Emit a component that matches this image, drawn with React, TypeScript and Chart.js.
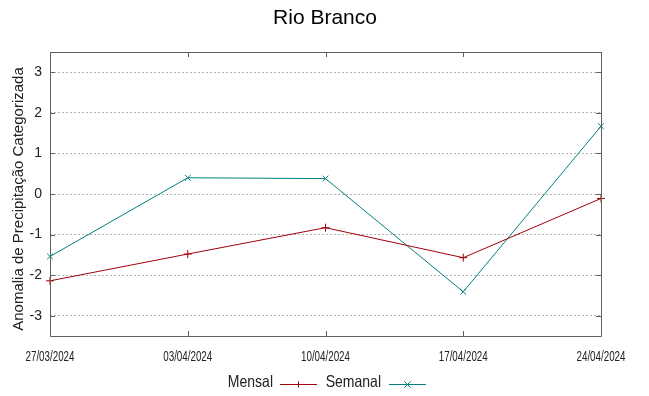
import React, { useEffect, useRef } from "react";
import { Chart, registerables } from "chart.js";

Chart.register(...registerables);

const dates = ["27/03/2024", "03/04/2024", "10/04/2024", "17/04/2024", "24/04/2024"];
const mensal = [-2.14, -1.48, -0.83, -1.57, -0.11];
const semanal = [-1.54, 0.4, 0.38, -2.41, 1.67];
const yTicks = [-3, -2, -1, 0, 1, 2, 3];
const titleText = "Rio Branco";
const yTitle = "Anomalia de Precipitação Categorizada";
const seriesNames = ["Mensal", "Semanal"];

const RED = "#a0000a";
const TEAL = "#00807f";
const FRAME = "#606060";
const SANS = "'Liberation Sans', Arial, sans-serif";

const framePlugin = {
  id: "framePlugin",
  afterDraw(chart: any) {
    const { ctx, chartArea: a, scales } = chart;
    const x = scales.x;
    const y = scales.y;
    ctx.save();
    ctx.strokeStyle = FRAME;
    ctx.lineWidth = 1;
    ctx.beginPath();
    ctx.rect(a.left + 0.5, a.top + 0.5, a.right - a.left, a.bottom - a.top);
    ctx.stroke();
    ctx.beginPath();
    yTicks.forEach((v) => {
      const py = Math.round(y.getPixelForValue(v)) + 0.5;
      ctx.moveTo(a.left, py);
      ctx.lineTo(a.left + 5, py);
      ctx.moveTo(a.right, py);
      ctx.lineTo(a.right - 5, py);
    });
    dates.forEach((_, i) => {
      const px = Math.round(x.getPixelForValue(i)) + 0.5;
      ctx.moveTo(px, a.bottom);
      ctx.lineTo(px, a.bottom - 5);
      ctx.moveTo(px, a.top);
      ctx.lineTo(px, a.top + 5);
    });
    ctx.stroke();
    ctx.restore();

    // title
    ctx.save();
    ctx.fillStyle = "#000";
    ctx.font = "21px " + SANS;
    ctx.textAlign = "center";
    ctx.textBaseline = "middle";
    ctx.fillText(titleText, 325, 18);
    ctx.restore();

    // x tick labels (narrow)
    ctx.save();
    ctx.fillStyle = "#222";
    ctx.font = "14px " + SANS;
    ctx.textAlign = "center";
    ctx.textBaseline = "middle";
    dates.forEach((d, i) => {
      const px = x.getPixelForValue(i);
      ctx.save();
      ctx.translate(px, 357);
      ctx.scale(0.7, 1);
      ctx.fillText(d, 0, 0);
      ctx.restore();
    });
    ctx.restore();

    // y axis title
    ctx.save();
    ctx.fillStyle = "#222";
    ctx.font = "15px " + SANS;
    ctx.textAlign = "center";
    ctx.textBaseline = "middle";
    ctx.translate(19, 199);
    ctx.rotate(-Math.PI / 2);
    ctx.fillText(yTitle, 0, 0);
    ctx.restore();

    // legend
    ctx.save();
    ctx.textBaseline = "middle";
    ctx.textAlign = "right";
    ctx.fillStyle = "#222";
    ctx.font = "16.5px " + SANS;
    const colors = [RED, TEAL];
    const textRight = [273, 381];
    const lineStart = [280, 389];
    const lineLen = 37;
    const ly = 382;
    seriesNames.forEach((name, i) => {
      ctx.save();
      ctx.translate(textRight[i], ly);
      ctx.scale(0.85, 1);
      ctx.fillText(name, 0, 0);
      ctx.restore();
      ctx.strokeStyle = colors[i];
      ctx.lineWidth = 1;
      const yy = ly + 2.5;
      ctx.beginPath();
      ctx.moveTo(lineStart[i], yy);
      ctx.lineTo(lineStart[i] + lineLen, yy);
      const cx = lineStart[i] + lineLen / 2;
      if (i === 0) {
        ctx.moveTo(cx, yy - 3);
        ctx.lineTo(cx, yy + 3);
      } else {
        ctx.moveTo(cx - 3, yy - 3);
        ctx.lineTo(cx + 3, yy + 3);
        ctx.moveTo(cx - 3, yy + 3);
        ctx.lineTo(cx + 3, yy - 3);
      }
      ctx.stroke();
    });
    ctx.restore();
  },
};

export default function App() {
  const ref = useRef<HTMLCanvasElement>(null);
  useEffect(() => {
    document.body.style.margin = "0";
    const chart = new Chart(ref.current!, {
      type: "line",
      data: {
        labels: dates,
        datasets: [
          {
            label: seriesNames[0],
            data: mensal,
            borderColor: RED,
            backgroundColor: RED,
            borderWidth: 1,
            pointStyle: "cross",
            pointRadius: 4,
            pointBorderWidth: 1,
            tension: 0,
          },
          {
            label: seriesNames[1],
            data: semanal,
            borderColor: TEAL,
            backgroundColor: TEAL,
            borderWidth: 1,
            pointStyle: "crossRot",
            pointRadius: 4,
            pointBorderWidth: 1,
            tension: 0,
          },
        ],
      },
      options: {
        animation: false,
        responsive: false,
        layout: { padding: { left: 0, right: 48, top: 52, bottom: 20 } },
        plugins: {
          legend: { display: false },
          tooltip: { enabled: false },
          title: { display: false },
        },
        scales: {
          x: {
            type: "category",
            offset: false,
            grid: { display: false },
            border: { display: false },
            ticks: { display: false, autoSkip: false, maxRotation: 0 },
            afterFit: (s: any) => {
              s.height = 40;
            },
          },
          y: {
            min: -3.5,
            max: 3.5,
            afterBuildTicks: (s: any) => {
              s.ticks = yTicks.map((v) => ({ value: v }));
            },
            grid: { color: "#b4b4b4", lineWidth: 1, drawTicks: false },
            border: { display: false, dash: [2, 2] },
            ticks: {
              color: "#222",
              padding: 8,
              font: { family: SANS, size: 14 },
            },
            afterFit: (s: any) => {
              s.width = 50;
            },
          },
        },
      },
      plugins: [framePlugin],
    });
    return () => chart.destroy();
  }, []);
  return (
    <div style={{ position: "absolute", left: 0, top: 0, width: 649, height: 396 }}>
      <canvas ref={ref} width={649} height={396} />
    </div>
  );
}
